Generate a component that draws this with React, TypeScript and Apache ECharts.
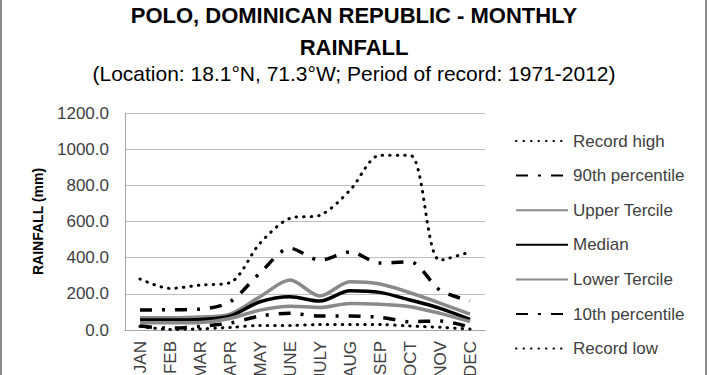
import React, { useEffect, useRef } from "react";
import * as echarts from "echarts";

const months = ["JAN", "FEB", "MAR", "APR", "MAY", "JUNE", "JULY", "AUG", "SEP", "OCT", "NOV", "DEC"];
const recordHigh = [282, 230, 248, 262, 480, 618, 635, 773, 966, 966, 386, 432];
const p90 = [110, 112, 115, 156, 315, 452, 386, 432, 370, 377, 220, 162];
const upperTercile = [68, 68, 72, 88, 184, 276, 188, 267, 254, 206, 149, 88];
const median = [55, 55, 58, 77, 156, 184, 160, 217, 208, 166, 120, 59];
const lowerTercile = [40, 40, 42, 64, 110, 132, 125, 147, 142, 129, 92, 46];
const p10 = [22, 10, 20, 38, 77, 92, 77, 77, 70, 46, 50, 15];
const recordLow = [20, 3, 6, 14, 25, 25, 30, 30, 30, 22, 15, 5];
const yTicks = [0, 200, 400, 600, 800, 1000, 1200];

const FONT = "'Liberation Sans', Arial, sans-serif";
const GRAY = "#8a8a8a";
const dotted = [0.5, 7];
const dashDot = [12, 10, 3, 10];

export default function App() {
  const ref = useRef<HTMLDivElement>(null);
  useEffect(() => {
    if (!ref.current) return;
    const chart = echarts.init(ref.current, undefined, { renderer: "svg" });
    const mk = (name: string, data: number[], color: string, width: number, type: any, cap: any) => ({
      name,
      type: "line",
      data,
      smooth: 0.3,
      symbol: "none",
      showSymbol: false,
      lineStyle: { color, width, type, cap },
      itemStyle: { color },
    });
    chart.setOption({
      animation: false,
      backgroundColor: "#ffffff",
      textStyle: { fontFamily: FONT },
      title: [
        {
          text: "POLO, DOMINICAN REPUBLIC - MONTHLY\nRAINFALL",
          left: 354,
          textAlign: "center",
          top: -1,
          padding: 0,
          textStyle: { fontFamily: FONT, fontSize: 22, fontWeight: "bold", color: "#000", lineHeight: 32 },
        },
        {
          text: "(Location: 18.1°N, 71.3°W; Period of record: 1971-2012)",
          left: 354,
          textAlign: "center",
          top: 63,
          padding: 0,
          textStyle: { fontFamily: FONT, fontSize: 21, fontWeight: "normal", color: "#000" },
        },
      ],
      grid: { left: 125, right: 225, top: 113, bottom: 45, containLabel: false, outerBoundsMode: "none" },
      legend: {
        orient: "vertical",
        left: 515,
        top: 131,
        padding: 0,
        itemWidth: 52,
        itemHeight: 14,
        itemGap: 14.6,
        itemStyle: { opacity: 0, borderWidth: 0 },
        textStyle: { fontFamily: FONT, fontSize: 17, color: "#404040", lineHeight: 20 },
        data: ["Record high", "90th percentile", "Upper Tercile", "Median", "Lower Tercile", "10th percentile", "Record low"],
      },
      xAxis: {
        type: "category",
        data: months,
        boundaryGap: true,
        axisLine: { lineStyle: { color: "#a6a6a6" } },
        axisTick: { show: false },
        axisLabel: { rotate: 90, interval: 0, fontSize: 17, color: "#404040", margin: 11, fontFamily: FONT },
      },
      yAxis: {
        type: "value",
        min: yTicks[0],
        max: yTicks[yTicks.length - 1],
        interval: 200,
        name: "RAINFALL (mm)",
        nameLocation: "middle",
        nameRotate: 90,
        nameGap: 80,
        nameTextStyle: { fontFamily: FONT, fontSize: 14, fontWeight: "bold", color: "#000" },
        axisLine: { show: true, lineStyle: { color: "#a6a6a6" } },
        axisTick: { show: false },
        splitLine: { lineStyle: { color: "#bfbfbf" } },
        axisLabel: { fontSize: 17, color: "#404040", margin: 16, fontFamily: FONT, formatter: (v: number) => v.toFixed(1) },
      },
      series: [
        mk("Record high", recordHigh, "#000", 3, dotted, "round"),
        mk("90th percentile", p90, "#000", 3.5, dashDot, "butt"),
        mk("Upper Tercile", upperTercile, GRAY, 3.5, "solid", "butt"),
        mk("Median", median, "#000", 3.5, "solid", "butt"),
        mk("Lower Tercile", lowerTercile, GRAY, 3.5, "solid", "butt"),
        mk("10th percentile", p10, "#000", 3.5, dashDot, "butt"),
        mk("Record low", recordLow, "#000", 3, dotted, "round"),
      ],
      graphic: [
        { type: "line", shape: { x1: 1, y1: 0, x2: 1, y2: 375 }, style: { stroke: "#8c8c8c", lineWidth: 2 } },
        { type: "line", shape: { x1: 706, y1: 0, x2: 706, y2: 375 }, style: { stroke: "#8c8c8c", lineWidth: 2 } },
      ],
    });
    return () => chart.dispose();
  }, []);
  return <div ref={ref} style={{ position: "fixed", left: 0, top: 0, width: 710, height: 375 }} />;
}
